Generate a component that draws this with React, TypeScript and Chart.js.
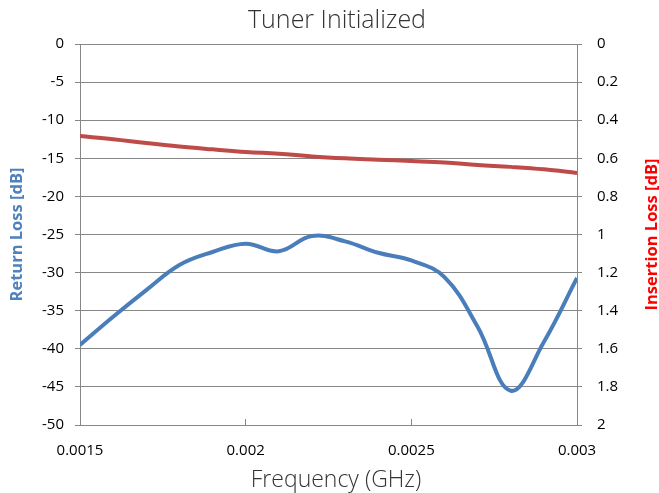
import { useEffect, useRef } from 'react';
import { Chart, registerables } from 'chart.js';

Chart.register(...registerables);

const chartTitle = 'Tuner Initialized';
const xAxisTitle = 'Frequency (GHz)';
const leftAxisTitle = 'Return Loss [dB]';
const rightAxisTitle = 'Insertion Loss [dB]';

const frequencies = [
  0.0015, 0.0016, 0.0017, 0.0018, 0.0019, 0.002, 0.0021, 0.0022,
  0.0023, 0.0024, 0.0025, 0.0026, 0.0027, 0.0028, 0.0029, 0.003,
];
const returnLoss = [
  -39.5, -35.8, -32.3, -29.0, -27.3, -26.2, -27.2, -25.2,
  -25.9, -27.4, -28.4, -30.6, -37.1, -45.5, -39.1, -30.7,
];
const insertionLoss = [
  0.483, 0.5, 0.52, 0.538, 0.553, 0.567, 0.576, 0.59,
  0.6, 0.607, 0.614, 0.622, 0.635, 0.645, 0.658, 0.677,
];

const xTicks = [0.0015, 0.002, 0.0025, 0.003];
const xTickLabels = ['0.0015', '0.002', '0.0025', '0.003'];
const leftTicks = [0, -5, -10, -15, -20, -25, -30, -35, -40, -45, -50];
const rightTicks = [0, 0.2, 0.4, 0.6, 0.8, 1, 1.2, 1.4, 1.6, 1.8, 2];
const rightTickLabels = ['0', '0.2', '0.4', '0.6', '0.8', '1', '1.2', '1.4', '1.6', '1.8', '2'];

const GRID = '#878787';
const TICK_FONT = { family: '"Open Sans", sans-serif', size: 15 };

export default function App() {
  const ref = useRef<HTMLCanvasElement | null>(null);

  useEffect(() => {
    if (!ref.current) return;

    const textPlugin = {
      id: 'texts',
      afterDraw(chart: any) {
        const ctx = chart.ctx as CanvasRenderingContext2D;
        const area = chart.chartArea;
        const midY = (area.top + area.bottom) / 2;
        ctx.save();
        ctx.textAlign = 'center';
        ctx.textBaseline = 'middle';
        // chart title
        ctx.fillStyle = '#333333';
        ctx.font = '300 25px "Open Sans", sans-serif';
        ctx.fillText(chartTitle, 337, 21);
        // x axis title
        ctx.font = '300 23px "Open Sans", sans-serif';
        ctx.fillText(xAxisTitle, 336, 480);
        // left axis title
        ctx.save();
        ctx.translate(17, midY);
        ctx.rotate(-Math.PI / 2);
        ctx.fillStyle = '#4F81BD';
        ctx.font = 'bold 16.5px "Open Sans", sans-serif';
        ctx.fillText(leftAxisTitle, 0, 0);
        ctx.restore();
        // right axis title
        ctx.save();
        ctx.translate(652, midY);
        ctx.rotate(-Math.PI / 2);
        ctx.fillStyle = '#FF0000';
        ctx.font = 'bold 16.5px "Open Sans", sans-serif';
        ctx.fillText(rightAxisTitle, 0, 0);
        ctx.restore();
        ctx.restore();
      },
    };

    const chart = new Chart(ref.current, {
      type: 'line',
      data: {
        datasets: [
          {
            label: 'Return Loss',
            data: frequencies.map((f, i) => ({ x: f, y: returnLoss[i] })),
            borderColor: '#4A7EBB',
            backgroundColor: '#4A7EBB',
            borderWidth: 4,
            pointRadius: 0,
            tension: 0.4,
            yAxisID: 'yLeft',
          },
          {
            label: 'Insertion Loss',
            data: frequencies.map((f, i) => ({ x: f, y: insertionLoss[i] })),
            borderColor: '#BE4B48',
            backgroundColor: '#BE4B48',
            borderWidth: 4,
            pointRadius: 0,
            tension: 0.4,
            yAxisID: 'yRight',
          },
        ],
      },
      options: {
        responsive: false,
        animation: false,
        layout: { padding: { top: 44, left: 0, right: 0, bottom: 0 } },
        plugins: {
          legend: { display: false },
          tooltip: { enabled: false },
          title: { display: false },
        },
        scales: {
          x: {
            type: 'linear',
            position: 'bottom',
            min: xTicks[0],
            max: xTicks[xTicks.length - 1],
            afterBuildTicks: (scale: any) => {
              scale.ticks = xTicks.map((v) => ({ value: v }));
            },
            afterFit: (scale: any) => {
              scale.height = 68;
            },
            ticks: {
              font: TICK_FONT,
              color: '#000',
              padding: 23,
              maxRotation: 0,
              autoSkip: false,
              callback: (_v: any, i: number) => xTickLabels[i],
            },
            grid: {
              display: true,
              drawOnChartArea: false,
              drawTicks: true,
              tickLength: -6,
              color: GRID,
            },
            border: { display: true, color: GRID, width: 1 },
          },
          yLeft: {
            type: 'linear',
            position: 'left',
            min: leftTicks[leftTicks.length - 1],
            max: leftTicks[0],
            afterBuildTicks: (scale: any) => {
              scale.ticks = leftTicks.map((v) => ({ value: v }));
            },
            afterFit: (scale: any) => {
              scale.width = 80;
            },
            ticks: {
              font: TICK_FONT,
              color: '#000',
              padding: 11,
              autoSkip: false,
              callback: (v: any) => String(v),
            },
            grid: {
              display: true,
              drawOnChartArea: true,
              drawTicks: true,
              tickLength: 5,
              color: GRID,
            },
            border: { display: true, color: GRID, width: 1 },
          },
          yRight: {
            type: 'linear',
            position: 'right',
            reverse: true,
            min: rightTicks[0],
            max: rightTicks[rightTicks.length - 1],
            afterBuildTicks: (scale: any) => {
              scale.ticks = rightTicks.map((v) => ({ value: v }));
            },
            afterFit: (scale: any) => {
              scale.width = 82;
            },
            ticks: {
              font: TICK_FONT,
              color: '#000',
              padding: 15,
              autoSkip: false,
              callback: (_v: any, i: number) => rightTickLabels[i],
            },
            grid: {
              display: true,
              drawOnChartArea: false,
              drawTicks: true,
              tickLength: 5,
              color: GRID,
            },
            border: { display: true, color: GRID, width: 1 },
          },
        },
      },
      plugins: [textPlugin],
    } as any);

    return () => chart.destroy();
  }, []);

  return (
    <div style={{ position: 'absolute', left: 0, top: 0, width: 659, height: 493, background: '#fff' }}>
      <canvas ref={ref} width={659} height={493} style={{ display: 'block' }} />
    </div>
  );
}
